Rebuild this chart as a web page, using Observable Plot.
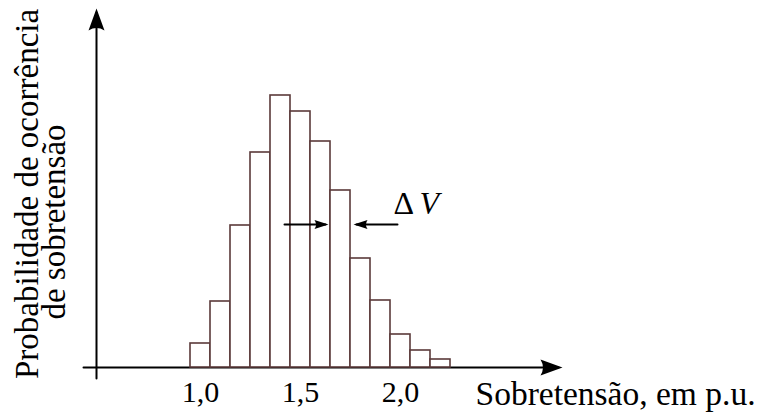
<!DOCTYPE html>
<html><head><meta charset="utf-8">
<script src="https://cdn.jsdelivr.net/npm/d3@7"></script>
<script src="https://cdn.jsdelivr.net/npm/@observablehq/plot@0.6"></script>
<style>
html,body{margin:0;padding:0;background:#fff}
</style></head><body><div id="chart"></div>
<script>
// ---- data ----
const binCenters = [1.0,1.1,1.2,1.3,1.4,1.5,1.6,1.7,1.8,1.9,2.0,2.1,2.2];
const frequencies = [2.4,6.6,14.2,21.5,27.2,25.6,22.6,17.7,10.9,6.7,3.3,1.7,0.8];
const binWidth = 0.1;
const tickValues = [1.0,1.5,2.0];
const tickLabels = ["1,0","1,5","2,0"];
const xTitle = "Sobretensão, em p.u.";
const yTitleLines = ["Probabilidade de ocorrência","de sobretensão"];
const deltaParts = ["Δ","V"];

// ---- annotation geometry (data units) ----
const xAxisArrow = [[0.415,0],[2.79,0]];
const yAxisArrow = [[0.48,-1.1],[0.48,35.5]];
const deltaArrowA = [[1.42,14.3],[1.625,14.3]];
const deltaArrowB = [[1.985,14.3],[1.78,14.3]];
const xTitlePos = {x:2.375, y:-3.7};
const tickLabelY = -3.4;
const yTitlePos = [{x:0.185, y:17.35},{x:0.32, y:14.55}];
const deltaPos = [{x:1.965, y:15.4},{x:2.095, y:15.4}];

const bins = binCenters.map((c,i)=>({x1:c-binWidth/2, x2:c+binWidth/2, p:frequencies[i]}));
const ticks = tickValues.map((v,i)=>({v, label:tickLabels[i]}));

function stealth(len, half, back){
  return (color, context) => {
    const m = d3.create("svg:marker")
      .attr("viewBox", `${-len-2} ${-half-2} ${len+4} ${2*half+4}`)
      .attr("markerWidth", len+4)
      .attr("markerHeight", 2*half+4)
      .attr("markerUnits","userSpaceOnUse")
      .attr("refX", -back).attr("refY", 0)
      .attr("orient","auto")
      .attr("overflow","visible");
    m.append("path")
      .attr("d", `M0,0L${-len},${-half}Q${-len*0.78},0 ${-len},${half}Z`)
      .attr("fill", "black").attr("stroke","none");
    return m.node();
  };
}
const bigHead = stealth(22, 8, 4);
const smallHead = stealth(14, 4.5, 3);

const barColor = "#5b3a3a";
const font = "Liberation Serif";
const txt = {fontFamily: font, fill: "black", lineAnchor: "bottom"};

const chart = Plot.plot({
  width: 759, height: 414,
  marginLeft: 80, marginRight: 199, marginTop: 67, marginBottom: 47,
  x: {domain:[0.4,2.8], axis:null},
  y: {domain:[0,30], axis:null},
  style: {fontFamily: font, fontSize:"32px", background:"white", overflow:"visible"},
  marks: [
    Plot.line(xAxisArrow, {stroke:"black", strokeWidth:2, markerEnd: bigHead}),
    Plot.line(yAxisArrow, {stroke:"black", strokeWidth:2, markerEnd: bigHead}),
    Plot.rect(bins, {x1:"x1", x2:"x2", y1:0, y2:"p", fill:"white", stroke:barColor, strokeWidth:1.6, inset:0}),
    Plot.line(deltaArrowA, {stroke:"black", strokeWidth:2, markerEnd: smallHead}),
    Plot.line(deltaArrowB, {stroke:"black", strokeWidth:2, markerEnd: smallHead}),
    Plot.text(ticks, {...txt, x:"v", y:()=>tickLabelY, text:"label", textAnchor:"middle", fontSize:30}),
    Plot.text([xTitle], {...txt, x:()=>xTitlePos.x, y:()=>xTitlePos.y, text:d=>d, textAnchor:"start", fontSize:33.5}),
    Plot.text(yTitleLines, {...txt, x:(d,i)=>yTitlePos[i].x, y:(d,i)=>yTitlePos[i].y, text:d=>d, rotate:-90, textAnchor:"middle", fontSize:33}),
    Plot.text([deltaParts[0]], {...txt, x:()=>deltaPos[0].x, y:()=>deltaPos[0].y, text:d=>d, textAnchor:"start", fontSize:32}),
    Plot.text([deltaParts[1]], {...txt, x:()=>deltaPos[1].x, y:()=>deltaPos[1].y, text:d=>d, textAnchor:"start", fontSize:32, fontStyle:"italic"})
  ]
});
document.getElementById("chart").appendChild(chart);
</script></body></html>
